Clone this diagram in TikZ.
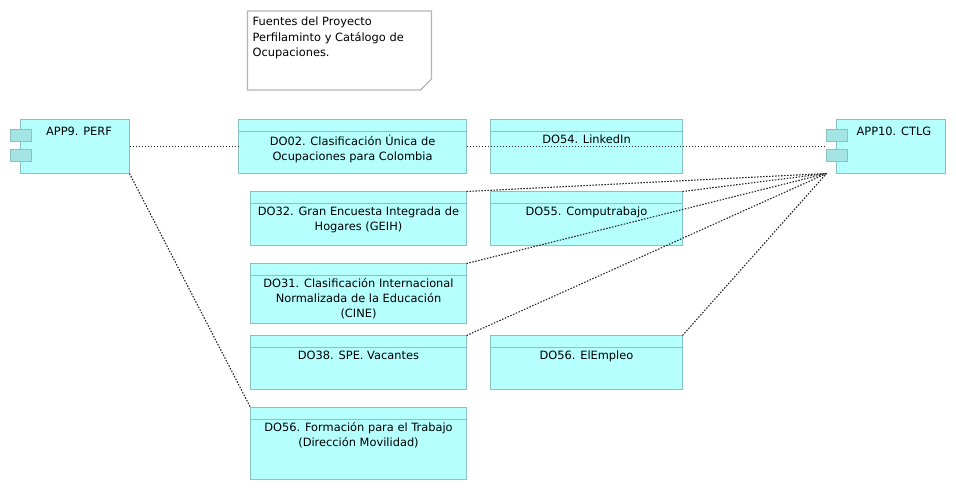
\documentclass[tikz,border=0pt]{standalone}
\usepackage{fontspec}
\setmainfont{DejaVu Sans}
\usetikzlibrary{positioning}
\definecolor{appfill}{HTML}{B5FFFF}
\definecolor{appline}{HTML}{88C2C2}
\definecolor{tabfill}{HTML}{A3E4E4}
\definecolor{noteline}{HTML}{B4B4B4}
\tikzset{
appbox/.style={draw=appline,fill=appfill,line width=1.3pt,rectangle,anchor=north west,inner sep=0pt,outer sep=0pt,minimum width=109pt,minimum height=54pt},
apptab/.style={draw=appline,fill=tabfill,line width=1.3pt,rectangle,anchor=north west,inner sep=0pt,outer sep=0pt,minimum width=21pt,minimum height=12pt},
dobox/.style={draw=appline,fill=appfill,line width=1.3pt,rectangle,anchor=north west,inner sep=0pt,outer sep=0pt,
path picture={\draw[appline,line width=1pt]([yshift=-12pt]path picture bounding box.north west)--([yshift=-12pt]path picture bounding box.north east);}},
boxtext/.style={anchor=north,align=center,inner sep=0pt,font=\fontsize{11.4pt}{15pt}\selectfont},
link/.style={draw=black!85,line width=1.1pt,dash pattern=on 1.5pt off 1.5pt},
}
\begin{document}
\begin{tikzpicture}[x=1pt,y=-1pt]
\useasboundingbox(0,0)rectangle(956,490);
% note
\draw[noteline,line width=1.2pt,fill=white](247.5,11)--(431.5,11)--(431.5,79)--(420.5,90)--(247.5,90)--cycle;
\node[anchor=north west,align=left,inner sep=0pt,font=\fontsize{11.4pt}{15.5pt}\selectfont](note) at (252.5,17){Fuentes del Proyecto\\Perfilaminto y Catálogo de\\Ocupaciones.};
% applications
\node[appbox](app9) at (20.5,119.5){};
\node[apptab](app9a) at (10.5,129.5){};
\node[apptab](app9b) at (10.5,149.5){};
\node[boxtext,below=7pt of app9.north,xshift=4pt](app9t){APP9. PERF};
\node[appbox](app10) at (836.5,119.5){};
\node[apptab](app10a) at (826.5,129.5){};
\node[apptab](app10b) at (826.5,149.5){};
\node[boxtext,below=7pt of app10.north,xshift=3pt](app10t){APP10. CTLG};
\coordinate(app10w) at (826.5,146.5);
\coordinate(app10s) at (826.5,173.5);
% data objects
\node[dobox,minimum width=228pt,minimum height=54pt](do02) at (238.5,119.5){};
\node[boxtext,below=15pt of do02.north](do02t){DO02. Clasificación Única de\\Ocupaciones para Colombia};
\node[dobox,minimum width=192pt,minimum height=54pt](do54) at (490.5,119.5){};
\node[boxtext,below=15pt of do54.north](do54t){DO54. LinkedIn};
\node[dobox,minimum width=216pt,minimum height=54pt](do32) at (250.5,191.5){};
\node[boxtext,below=15pt of do32.north](do32t){DO32. Gran Encuesta Integrada de\\Hogares (GEIH)};
\node[dobox,minimum width=192pt,minimum height=54pt](do55) at (490.5,191.5){};
\node[boxtext,below=15pt of do55.north](do55t){DO55. Computrabajo};
\node[dobox,minimum width=216pt,minimum height=60pt](do31) at (250.5,263.5){};
\node[boxtext,below=15pt of do31.north](do31t){DO31. Clasificación Internacional\\Normalizada de la Educación\\(CINE)};
\node[dobox,minimum width=216pt,minimum height=54pt](do38) at (250.5,335.5){};
\node[boxtext,below=15pt of do38.north](do38t){DO38. SPE. Vacantes};
\node[dobox,minimum width=192pt,minimum height=54pt](do56e) at (490.5,335.5){};
\node[boxtext,below=15pt of do56e.north](do56et){DO56. ElEmpleo};
\node[dobox,minimum width=216pt,minimum height=72pt](do56f) at (250.5,407.5){};
\node[boxtext,below=15pt of do56f.north](do56ft){DO56. Formación para el Trabajo\\(Dirección Movilidad)};
% links
\draw[link](app9.east)--(do02.west);
\draw[link](app9.south east)--(do56f.north west);
\draw[link](do02.east)--(app10w);
\draw[link](do32.north east)--(app10s);
\draw[link](do55.north east)--(app10s);
\draw[link](do31.north east)--(app10s);
\draw[link](do38.north east)--(app10s);
\draw[link](do56e.north east)--(app10s);
\end{tikzpicture}
\end{document}
